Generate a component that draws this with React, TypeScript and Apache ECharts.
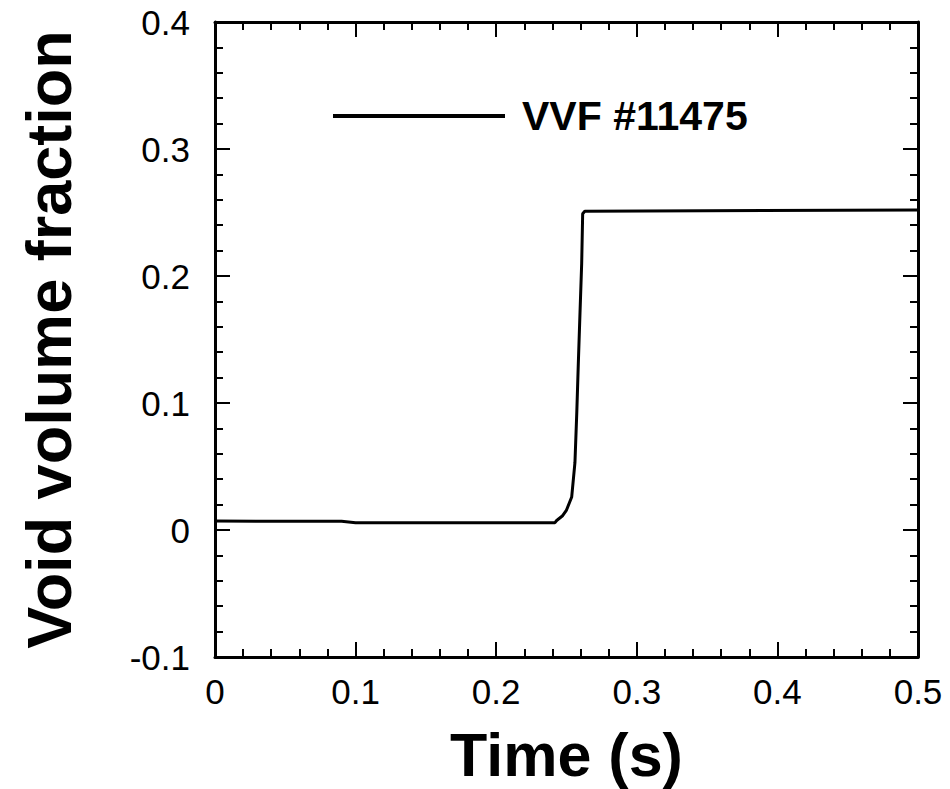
import React, { useEffect, useRef } from "react";
import * as echarts from "echarts";

const seriesName = "VVF #11475";
const timeValues = [0, 0.09, 0.1, 0.2418, 0.243, 0.247, 0.25, 0.2537, 0.256, 0.2573, 0.2584, 0.2596, 0.2608, 0.2615, 0.263, 0.5];
const vvfValues = [0.007, 0.0068, 0.0058, 0.0058, 0.0075, 0.011, 0.0157, 0.026, 0.053, 0.092, 0.131, 0.171, 0.21, 0.249, 0.251, 0.252];

const FONT = "'Liberation Sans', Arial, Helvetica, sans-serif";

export default function App() {
  const ref = useRef<HTMLDivElement>(null);
  useEffect(() => {
    if (!ref.current) return;
    const chart = echarts.init(ref.current, null, { renderer: "svg" });
    const data = timeValues.map((t, i) => [t, vvfValues[i]]);
    const axisLine = { show: true, onZero: false, lineStyle: { color: "#000", width: 3 } };
    const axisTick = { show: true, inside: true, length: 15, lineStyle: { color: "#000", width: 2 } };
    const minorTick = { show: true, splitNumber: 5, length: 8, lineStyle: { color: "#000", width: 2 } };
    const labelStyle = { color: "#000", fontFamily: FONT, fontSize: 35 };
    chart.setOption({
      animation: false,
      backgroundColor: "#fff",
      grid: { left: 215, top: 22, right: 32, bottom: 132, containLabel: false, outerBoundsMode: "none" },
      legend: {
        show: true,
        data: [seriesName],
        left: 333,
        top: 95,
        padding: 0,
        icon: "rect",
        itemWidth: 172,
        itemHeight: 4,
        itemStyle: { color: "#000" },
        textStyle: { color: "#000", fontFamily: FONT, fontSize: 41, fontWeight: "bold", padding: [0, 0, 0, 12], lineHeight: 42 },
      },
      xAxis: [
        {
          type: "value",
          min: 0,
          max: 0.5,
          interval: 0.1,
          position: "bottom",
          name: "Time (s)",
          nameLocation: "middle",
          nameGap: 67,
          nameTextStyle: { color: "#000", fontFamily: FONT, fontSize: 61, fontWeight: "bold" },
          axisLine,
          axisTick,
          minorTick,
          splitLine: { show: false },
          axisLabel: { ...labelStyle, margin: 17 },
        },
        {
          type: "value",
          min: 0,
          max: 0.5,
          interval: 0.1,
          position: "top",
          axisLine,
          axisTick,
          minorTick,
          splitLine: { show: false },
          axisLabel: { show: false },
        },
      ],
      yAxis: [
        {
          type: "value",
          min: -0.1,
          max: 0.4,
          interval: 0.1,
          position: "left",
          name: "Void volume fraction",
          nameLocation: "middle",
          nameGap: 135,
          nameTextStyle: { color: "#000", fontFamily: FONT, fontSize: 63, fontWeight: "bold" },
          axisLine,
          axisTick,
          minorTick,
          splitLine: { show: false },
          axisLabel: { ...labelStyle, margin: 25 },
        },
        {
          type: "value",
          min: -0.1,
          max: 0.4,
          interval: 0.1,
          position: "right",
          axisLine,
          axisTick,
          minorTick,
          splitLine: { show: false },
          axisLabel: { show: false },
        },
      ],
      series: [
        {
          name: seriesName,
          type: "line",
          data,
          xAxisIndex: 0,
          yAxisIndex: 0,
          showSymbol: false,
          symbol: "none",
          lineStyle: { color: "#000", width: 3 },
          itemStyle: { color: "#000" },
        },
      ],
    });
    return () => chart.dispose();
  }, []);
  return <div ref={ref} style={{ width: 950, height: 789, position: "absolute", left: 0, top: 0 }} />;
}
